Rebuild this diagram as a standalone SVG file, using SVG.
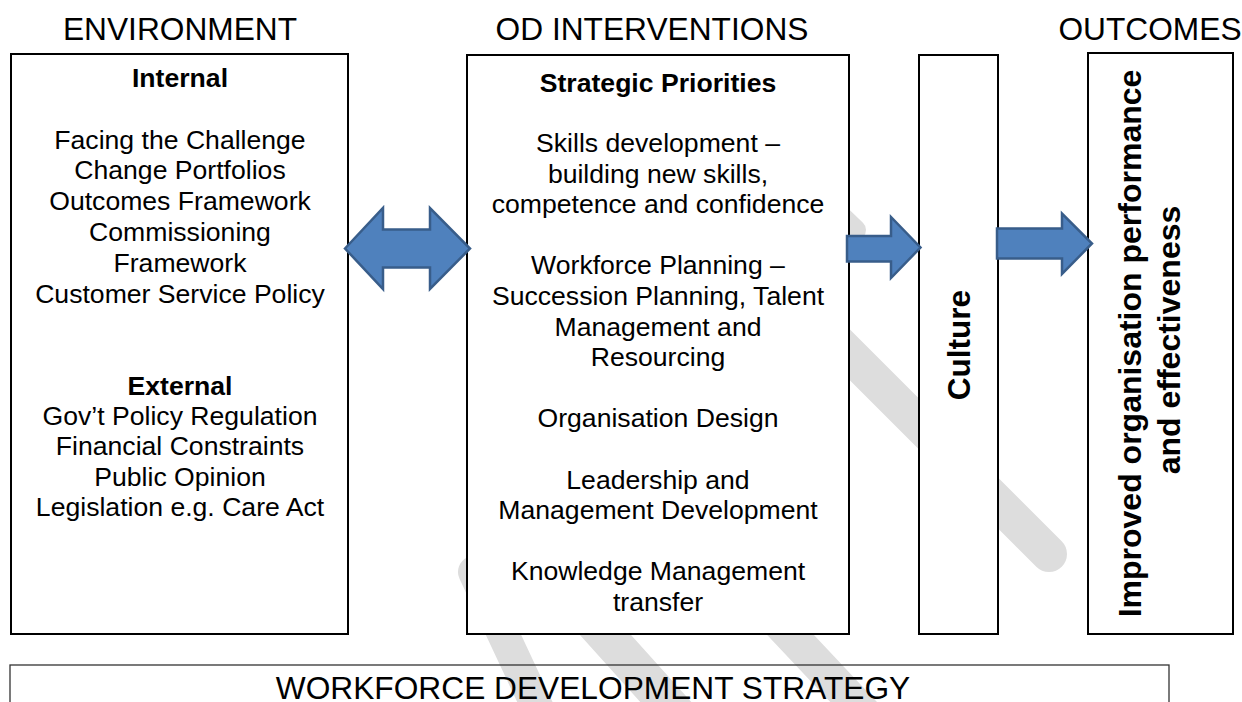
<svg xmlns="http://www.w3.org/2000/svg" width="1242" height="702" viewBox="0 0 1242 702">
<style>
.t{font-family:"Liberation Sans",Arial,sans-serif;fill:#000}
.title{font-size:31.7px;text-anchor:middle}
.b{font-size:26.6px;text-anchor:middle}
.bb{font-size:26.6px;text-anchor:middle;font-weight:bold}
.rot{font-size:32px;text-anchor:middle;font-weight:bold}
.box{fill:#fff;stroke:#000;stroke-width:2}
.wm{stroke:#dddddd;fill:none;stroke-linecap:round}
.arrow{fill:#4F81BD;stroke:#385D8A;stroke-width:2.5;stroke-linejoin:miter}
</style>
<rect width="1242" height="702" fill="#fff"/>
<g id="watermark">
<line class="wm" x1="700" y1="205" x2="1049" y2="554" stroke-width="36"/>
<line class="wm" x1="474" y1="572" x2="548" y2="730" stroke-width="32"/>
<line class="wm" x1="520" y1="540" x2="700" y2="740" stroke-width="38"/>
<line class="wm" x1="720" y1="560" x2="880" y2="730" stroke-width="34"/>
<line class="wm" x1="830" y1="205" x2="856" y2="230" stroke-width="20"/>
</g>
<g id="titles">
<text class="t title" x="180" y="39.5">ENVIRONMENT</text>
<text class="t title" x="652" y="39.5">OD INTERVENTIONS</text>
<text class="t title" x="1150" y="39.5">OUTCOMES</text>
</g>
<g id="strategy">
<rect x="10" y="665" width="1159" height="60" fill="none" stroke="#333" stroke-width="1.3"/>
<text class="t title" x="593" y="699">WORKFORCE DEVELOPMENT STRATEGY</text>
</g>
<g id="environment">
<rect class="box" x="11" y="54" width="337" height="580"/>
<text class="t bb" x="180" y="87">Internal</text>
<text class="t b" x="180" y="148.5">Facing the Challenge</text>
<text class="t b" x="180" y="179.3">Change Portfolios</text>
<text class="t b" x="180" y="210.1">Outcomes Framework</text>
<text class="t b" x="180" y="240.9">Commissioning</text>
<text class="t b" x="180" y="271.7">Framework</text>
<text class="t b" x="180" y="302.5">Customer Service Policy</text>
<text class="t bb" x="180" y="394.5">External</text>
<text class="t b" x="180" y="424.5">Gov’t Policy Regulation</text>
<text class="t b" x="180" y="455">Financial Constraints</text>
<text class="t b" x="180" y="485.5">Public Opinion</text>
<text class="t b" x="180" y="516">Legislation e.g. Care Act</text>
</g>
<g id="od-interventions">
<rect class="box" x="467" y="55" width="382" height="579"/>
<text class="t bb" x="658" y="91.5">Strategic Priorities</text>
<text class="t b" x="658" y="152">Skills development –</text>
<text class="t b" x="658" y="182.6">building new skills,</text>
<text class="t b" x="658" y="213.2">competence and confidence</text>
<text class="t b" x="658" y="274.4">Workforce Planning –</text>
<text class="t b" x="658" y="305">Succession Planning, Talent</text>
<text class="t b" x="658" y="335.6">Management and</text>
<text class="t b" x="658" y="366.2">Resourcing</text>
<text class="t b" x="658" y="427.4">Organisation Design</text>
<text class="t b" x="658" y="488.6">Leadership and</text>
<text class="t b" x="658" y="519.2">Management Development</text>
<text class="t b" x="658" y="580.4">Knowledge Management</text>
<text class="t b" x="658" y="611">transfer</text>
</g>
<g id="culture">
<rect class="box" x="919" y="55" width="79" height="579"/>
<text class="t rot" transform="translate(970,345) rotate(-90)" x="0" y="0" style="font-size:31.5px">Culture</text>
</g>
<g id="outcomes">
<rect class="box" x="1088" y="53" width="145" height="581"/>
<text class="t rot" transform="translate(1141,343.5) rotate(-90)" x="0" y="0">Improved organisation performance</text>
<text class="t rot" transform="translate(1180,340) rotate(-90)" x="0" y="0">and effectiveness</text>
</g>
<g id="connectors">
<path class="arrow" d="M345,248.5 L383,208 L383,229.5 L430,229.5 L430,208 L470,248.5 L430,289 L430,267.5 L383,267.5 L383,289 Z"/>
<path class="arrow" d="M847,236 L891,236 L891,217 L920.5,247.5 L891,278 L891,261.5 L847,261.5 Z"/>
<path class="arrow" d="M997,228.5 L1062,228.5 L1062,213.5 L1092,243.5 L1062,274 L1062,258.5 L997,258.5 Z"/>
</g>
</svg>
